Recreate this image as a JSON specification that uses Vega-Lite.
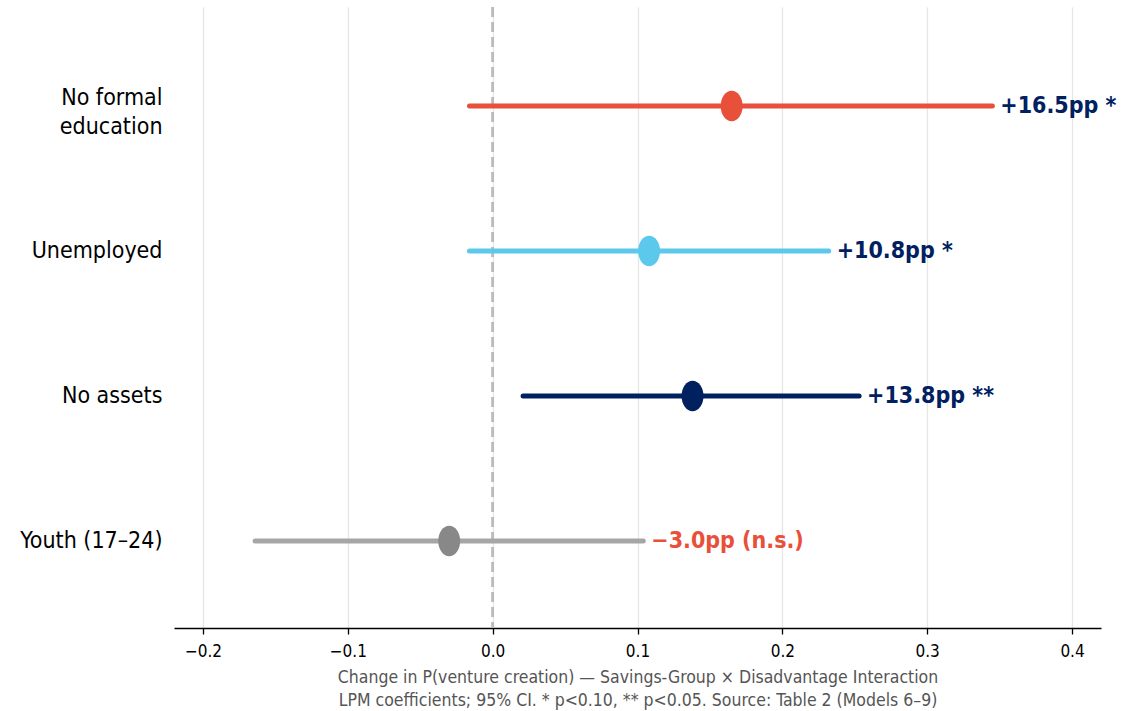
{
  "$schema": "https://vega.github.io/schema/vega-lite/v6.json",
  "width": 927,
  "height": 621,
  "autosize": {"type": "none"},
  "padding": {"left": 174, "top": 7, "right": 39, "bottom": 83},
  "background": "white",
  "config": {
    "view": {"stroke": null},
    "font": "DejaVu Sans Condensed",
    "axis": {"labelFont": "DejaVu Sans Condensed", "titleFont": "DejaVu Sans Condensed"},
    "text": {"font": "DejaVu Sans Condensed"}
  },
  "data": {
    "values": [
      {"group": "No formal education", "est": 0.165, "lo": -0.016, "hi": 0.345, "label": "+16.5pp *", "sig": "yes"},
      {"group": "Unemployed", "est": 0.108, "lo": -0.016, "hi": 0.232, "label": "+10.8pp *", "sig": "yes"},
      {"group": "No assets", "est": 0.138, "lo": 0.021, "hi": 0.253, "label": "+13.8pp **", "sig": "yes"},
      {"group": "Youth (17–24)", "est": -0.030, "lo": -0.164, "hi": 0.104, "label": "−3.0pp (n.s.)", "sig": "no"}
    ]
  },
  "encoding": {
    "y": {
      "field": "group",
      "type": "nominal",
      "sort": null,
      "scale": {"type": "point", "padding": 0.641, "align": 0.532},
      "axis": {
        "title": null,
        "domain": false,
        "ticks": false,
        "grid": false,
        "labelFontSize": 23,
        "labelColor": "#000000",
        "labelPadding": 12,
        "labelLineHeight": 29,
        "labelOffset": {"condition": {"test": "datum.value == 'No formal education'", "value": -8}, "value": 0},
        "labelExpr": "datum.label == 'No formal education' ? ['No formal', 'education'] : datum.label"
      }
    }
  },
  "layer": [
    {
      "mark": {"type": "rule", "strokeDash": [10, 5], "strokeWidth": 2, "color": "#bbbbbb"},
      "encoding": {
        "x": {"datum": 0, "type": "quantitative"},
        "y": null
      }
    },
    {
      "mark": {"type": "rule", "strokeWidth": 5, "strokeCap": "round"},
      "encoding": {
        "x": {
          "field": "lo",
          "type": "quantitative",
          "scale": {"domain": [-0.22, 0.42], "nice": false, "zero": false},
          "axis": {
            "values": [-0.2, -0.1, 0, 0.1, 0.2, 0.3, 0.4],
            "format": ".1f",
            "grid": true,
            "gridColor": "#e6e6e6",
            "gridWidth": 1.3,
            "domainColor": "#000000",
            "domainWidth": 1.3,
            "tickColor": "#000000",
            "tickSize": 6,
            "tickWidth": 1.3,
            "labelFontSize": 17,
            "labelColor": "#000000",
            "labelPadding": 9,
            "title": ["Change in P(venture creation) — Savings-Group × Disadvantage Interaction", "LPM coefficients; 95% CI. * p<0.10, ** p<0.05. Source: Table 2 (Models 6–9)"],
            "titleFontSize": 17.5,
            "titleFontWeight": "normal",
            "titleColor": "#555555",
            "titlePadding": 9,
            "titleLineHeight": 23
          }
        },
        "x2": {"field": "hi"},
        "color": {
          "field": "group",
          "type": "nominal",
          "scale": {
            "domain": ["No formal education", "Unemployed", "No assets", "Youth (17–24)"],
            "range": ["#E8503A", "#5BC8EC", "#00205F", "#A6A6A6"]
          },
          "legend": null
        }
      }
    },
    {
      "mark": {
        "type": "point",
        "filled": true,
        "opacity": 1,
        "size": 930,
        "shape": "M0,-1A0.72,1,0,1,1,0,1A0.72,1,0,1,1,0,-1Z"
      },
      "encoding": {
        "x": {"field": "est", "type": "quantitative"},
        "fill": {
          "field": "group",
          "type": "nominal",
          "scale": {
            "domain": ["No formal education", "Unemployed", "No assets", "Youth (17–24)"],
            "range": ["#E8503A", "#5BC8EC", "#00205F", "#888888"]
          },
          "legend": null
        }
      }
    },
    {
      "mark": {"type": "text", "align": "left", "baseline": "middle", "dx": 8, "fontSize": 23, "fontWeight": "bold"},
      "encoding": {
        "x": {"field": "hi", "type": "quantitative"},
        "text": {"field": "label"},
        "color": {
          "field": "sig",
          "type": "nominal",
          "scale": {"domain": ["yes", "no"], "range": ["#00205F", "#E8503A"]},
          "legend": null
        }
      }
    }
  ],
  "resolve": {"scale": {"color": "independent", "fill": "independent"}}
}
